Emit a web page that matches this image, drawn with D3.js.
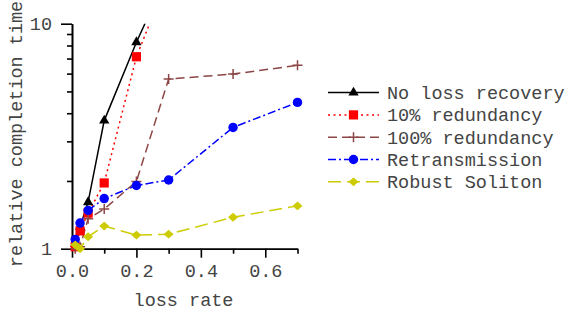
<!DOCTYPE html>
<html>
<head>
<meta charset="utf-8">
<script src="https://cdn.jsdelivr.net/npm/d3@7"></script>
<style>
  body { margin: 0; background: #fff; }
  text { font-family: "Liberation Mono", "DejaVu Sans Mono", monospace; fill: #444; }
</style>
</head>
<body>
<div id="chart"></div>
<script>
var lossRate = [0.01, 0.025, 0.05, 0.1, 0.2, 0.3, 0.5, 0.7];
var noLossRecovery = [1.05, 1.25, 1.61, 3.71, 8.27, 17.0];
var redundancy10 = [1.02, 1.2, 1.44, 1.96, 7.13, 16.3];
var redundancy100 = [1.0, 1.02, 1.36, 1.5, 1.99, 5.68, 5.97, 6.53];
var retransmission = [1.10, 1.30, 1.48, 1.67, 1.91, 2.02, 3.46, 4.47];
var robustSoliton = [1.04, 1.0, 1.13, 1.26, 1.15, 1.16, 1.38, 1.55];

var xMajor = [0, 0.2, 0.4, 0.6],
    xMinor = [0.1, 0.3, 0.5, 0.7],
    yMajor = [1, 10],
    yMinor = [2, 3, 4, 5, 6, 7, 8, 9];

var series = [
    {name: "No loss recovery", values: noLossRecovery, color: "#000", dash: null, marker: "triangle"},
    {name: "10% redundancy", values: redundancy10, color: "#ff0000", dash: "2,3.5", marker: "square"},
    {name: "100% redundancy", values: redundancy100, color: "#8c4646", dash: "9,5", marker: "plus"},
    {name: "Retransmission", values: retransmission, color: "#0000ff", dash: "8,3,2,3", marker: "circle"},
    {name: "Robust Soliton", values: robustSoliton, color: "#cccc00", dash: "13,6", marker: "diamond"}
];

var width = 568, height = 313;

var x = d3.scaleLinear().domain([0, 0.7]).range([72, 297.5]);
var y = d3.scaleLog().domain([1, 10]).range([248.7, 23.7]);

var svg = d3.select("#chart").append("svg")
    .attr("width", width)
    .attr("height", height);

svg.append("rect").attr("width", width).attr("height", height).attr("fill", "#fff");

svg.append("defs").append("clipPath").attr("id", "plot-clip")
    .append("rect")
    .attr("x", x(0)).attr("y", y(10))
    .attr("width", x(0.7) - x(0)).attr("height", y(1) - y(10));

function markerPath(type) {
    if (type == "triangle") return d3.symbol().type(d3.symbolTriangle).size(46)();
    if (type == "square") return "M-4.6,-4.6H4.6V4.6H-4.6Z";
    if (type == "circle") return d3.symbol().type(d3.symbolCircle).size(70)();
    if (type == "diamond") return "M0,-4.4L5,0L0,4.4L-5,0Z";
    return "M-5,0H5M0,-5V5";
}

function drawMarker(g, type, color) {
    var p = g.append("path").attr("d", markerPath(type));
    if (type == "plus") p.attr("fill", "none").attr("stroke", color).attr("stroke-width", 1.5);
    else p.attr("fill", color);
}

// axes
var yAxis = svg.append("g").attr("transform", "translate(" + x(0) + ",0)");
yAxis.call(d3.axisLeft(y).tickValues(yMinor).tickSize(5).tickSizeOuter(0).tickFormat(""));
yAxis.append("g").call(d3.axisLeft(y).tickValues(yMajor).tickSize(11).tickPadding(9)
    .tickSizeOuter(0).tickFormat(d3.format("d")));

var xAxis = svg.append("g").attr("transform", "translate(0," + y(1) + ")");
xAxis.call(d3.axisBottom(x).tickValues(xMinor).tickSize(5).tickSizeOuter(0).tickFormat(""));
xAxis.append("g").call(d3.axisBottom(x).tickValues(xMajor).tickSize(9).tickPadding(6)
    .tickSizeOuter(0).tickFormat(d3.format(".1f")));

svg.selectAll(".domain, .tick line").attr("stroke", "#000").attr("stroke-width", 1.6);
svg.selectAll(".tick text").style("font-size", "18.5px").attr("fill", "#444");

// lines
var line = d3.line()
    .x(function(d, i) { return x(lossRate[i]); })
    .y(function(d) { return y(d); });

var plot = svg.append("g");
series.forEach(function(s) {
    plot.append("path")
        .attr("clip-path", "url(#plot-clip)")
        .attr("d", line(s.values))
        .attr("fill", "none")
        .attr("stroke", s.color)
        .attr("stroke-width", 1.5)
        .attr("stroke-dasharray", s.dash);
});
series.forEach(function(s) {
    s.values.forEach(function(v, i) {
        if (v > 10) return;
        var g = plot.append("g").attr("transform", "translate(" + x(lossRate[i]) + "," + y(v) + ")");
        drawMarker(g, s.marker, s.color);
    });
});

// axis titles
svg.append("text")
    .attr("x", 183.5).attr("y", 306)
    .attr("text-anchor", "middle")
    .style("font-size", "18.5px")
    .text("loss rate");

svg.append("text")
    .attr("transform", "translate(21.5,134) rotate(-90)")
    .attr("text-anchor", "middle")
    .style("font-size", "18.5px")
    .text("relative completion time");

// legend
var legend = svg.append("g");
series.forEach(function(s, i) {
    var ly = 92.6 + i * 22.3;
    legend.append("line")
        .attr("x1", 328).attr("x2", 379)
        .attr("y1", ly).attr("y2", ly)
        .attr("stroke", s.color)
        .attr("stroke-width", 1.5)
        .attr("stroke-dasharray", s.dash);
    drawMarker(legend.append("g").attr("transform", "translate(353.5," + ly + ")"), s.marker, s.color);
    legend.append("text")
        .attr("x", 387).attr("y", ly)
        .attr("dy", "0.35em")
        .style("font-size", "18.5px")
        .text(s.name);
});
</script>
</body>
</html>
